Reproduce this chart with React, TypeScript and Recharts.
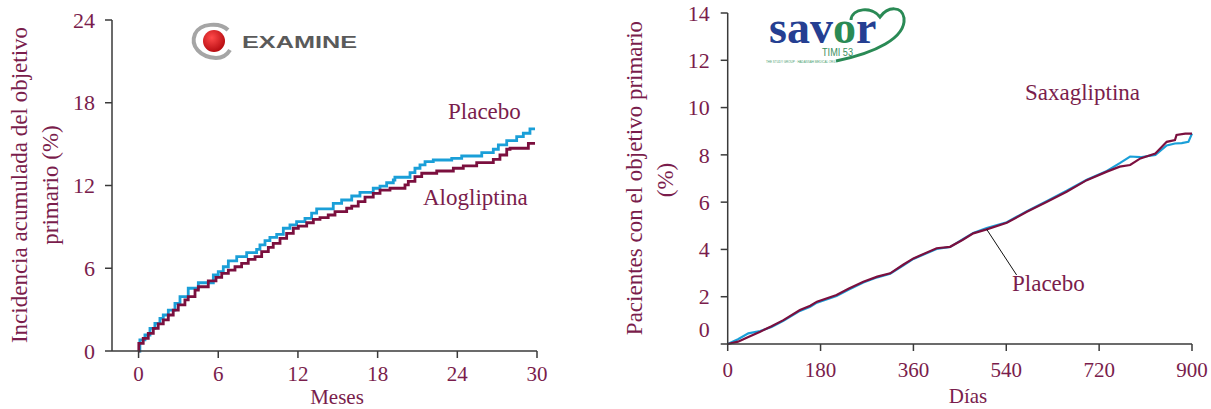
import { LineChart, Line, XAxis, YAxis, ReferenceLine } from "recharts";

// EXAMINE (left): months vs cumulative incidence (%)
const examineTicksX = [0, 6, 12, 18, 24, 30];
const examineTicksY = [0, 6, 12, 18, 24];
const placeboMonths = [0.08, 0.1, 0.48, 0.86, 1.23, 1.61, 1.86, 2.24, 2.74, 3.12, 3.74, 4.5, 5.63, 6.0, 6.38, 6.76, 7.39, 8.14, 8.89, 9.14, 9.52, 9.89, 10.4, 10.9, 11.4, 11.9, 12.53, 13.03, 13.41, 14.66, 15.29, 16.05, 16.67, 17.67, 18.18, 18.68, 19.18, 19.3, 20.44, 20.81, 21.19, 21.57, 22.19, 23.58, 24.33, 25.84, 26.71, 27.09, 27.72, 28.47, 28.97, 29.47, 29.85];
const placeboIncidence = [0, 0.8, 1.16, 1.64, 2.0, 2.37, 2.61, 2.97, 3.46, 3.94, 4.55, 4.95, 5.51, 5.75, 6.11, 6.53, 6.84, 7.13, 7.37, 7.69, 8.0, 8.24, 8.46, 8.9, 9.14, 9.38, 9.62, 9.99, 10.3, 10.7, 10.95, 11.24, 11.5, 11.8, 11.96, 12.2, 12.4, 12.6, 12.93, 13.25, 13.49, 13.73, 13.85, 13.97, 14.14, 14.38, 14.63, 14.94, 15.25, 15.54, 15.79, 16.1, 16.1];
const alogliptinaMonths = [0.0, 0.02, 0.35, 0.73, 1.11, 1.48, 1.86, 2.24, 2.61, 2.99, 3.49, 3.74, 4.25, 4.5, 5.25, 5.83, 6.26, 6.76, 7.26, 7.76, 8.26, 8.77, 9.27, 9.77, 10.14, 10.65, 11.15, 11.65, 12.03, 12.66, 13.16, 13.66, 14.28, 14.79, 15.67, 16.05, 16.54, 17.05, 17.67, 18.18, 18.93, 20.06, 20.31, 20.81, 21.32, 22.45, 23.7, 24.45, 25.46, 26.71, 27.21, 27.72, 27.97, 29.35, 29.85];
const alogliptinaIncidence = [0, 0.56, 0.92, 1.28, 1.64, 1.96, 2.25, 2.61, 2.97, 3.34, 3.7, 3.94, 4.42, 4.66, 5.08, 5.34, 5.63, 5.87, 6.11, 6.36, 6.65, 6.84, 7.2, 7.52, 7.81, 8.17, 8.53, 8.9, 9.06, 9.3, 9.55, 9.67, 9.86, 10.1, 10.35, 10.5, 10.83, 11.15, 11.43, 11.67, 11.8, 12.04, 12.3, 12.64, 12.89, 13.05, 13.25, 13.42, 13.66, 13.9, 14.21, 14.63, 14.7, 15.06, 15.06];

// SAVOR (right): days vs patients with primary endpoint (%)
const savorTicksX = [0, 180, 360, 540, 720, 900];
const savorTicksY = [0, 2, 4, 6, 8, 10, 12, 14];
const saxaDays = [0, 20, 40, 63, 85, 108, 140, 160, 173, 211, 235, 263, 290, 315, 340, 360, 405, 431, 455, 476, 502, 541, 580, 619, 657, 696, 735, 760, 780, 800, 829, 851, 867, 870, 887, 900];
const saxaValues = [0, 0.1, 0.3, 0.52, 0.75, 1.01, 1.44, 1.62, 1.79, 2.07, 2.35, 2.63, 2.85, 2.99, 3.35, 3.62, 4.05, 4.11, 4.4, 4.68, 4.85, 5.13, 5.59, 6.02, 6.44, 6.93, 7.29, 7.5, 7.57, 7.85, 8.06, 8.55, 8.63, 8.84, 8.9, 8.9];
const savorPlaceboDays = [0, 20, 40, 63, 85, 108, 140, 160, 173, 211, 235, 263, 290, 315, 340, 360, 405, 431, 455, 476, 502, 541, 580, 619, 657, 696, 735, 760, 780, 800, 829, 851, 867, 880, 893, 900];
const savorPlaceboValues = [0, 0.2, 0.45, 0.55, 0.72, 0.98, 1.4, 1.58, 1.75, 2.03, 2.3, 2.6, 2.82, 2.97, 3.32, 3.6, 4.02, 4.1, 4.42, 4.7, 4.9, 5.15, 5.62, 6.05, 6.48, 6.95, 7.32, 7.65, 7.93, 7.9, 8.0, 8.4, 8.48, 8.5, 8.55, 8.9];

const examinePlacebo = placeboMonths.map((m, i) => ({ m, v: placeboIncidence[i] }));
const examineAlo = alogliptinaMonths.map((m, i) => ({ m, v: alogliptinaIncidence[i] }));
const savorSaxa = saxaDays.map((d, i) => ({ d, v: saxaValues[i] }));
const savorPlacebo = savorPlaceboDays.map((d, i) => ({ d, v: savorPlaceboValues[i] }));

const MAROON = "#7b0f3e";
const TEXT = "#7a1d4c";
const BLUE = "#1a9fd8";
const AXIS = "#3a3a3a";
const SERIF = "'Liberation Serif', 'DejaVu Serif', serif";
const SANS = "'Liberation Sans', Arial, sans-serif";

function XTick({ x, y, payload }: any) {
  return (
    <text x={x} y={y} dy="0.71em" textAnchor="middle" fill={TEXT} fontSize={21} fontFamily={SERIF}>
      {payload.value}
    </text>
  );
}

function YTick({ x, y, payload, shiftZero }: any) {
  const dy = shiftZero && payload.value === 0 ? -15 : 0;
  return (
    <text x={x} y={y + dy} dy="0.35em" textAnchor="end" fill={TEXT} fontSize={22} fontFamily={SERIF}>
      {payload.value}
    </text>
  );
}

const axisProps = {
  stroke: AXIS,
  strokeWidth: 1.5,
  tickSize: 7,
  tickLine: { stroke: AXIS, strokeWidth: 1.5 },
};

export default function App() {
  return (
    <div style={{ position: "absolute", left: 0, top: 0, width: 1211, height: 409, background: "#fff" }}>
      <div style={{ position: "absolute", left: 0, top: 0 }}>
        <LineChart width={560} height={409} margin={{ top: 20, right: 23, bottom: 28, left: 52 }}>
          <XAxis
            dataKey="m"
            type="number"
            domain={[-2, 30]}
            ticks={examineTicksX}
            height={30}
            tickMargin={8}
            tick={<XTick />}
            allowDuplicatedCategory={false}
            {...axisProps}
          />
          <YAxis
            type="number"
            domain={[0, 24]}
            ticks={examineTicksY}
            width={60}
            tickMargin={10}
            tick={<YTick />}
            {...axisProps}
          />
          <Line data={examinePlacebo} dataKey="v" type="stepAfter" stroke={BLUE} strokeWidth={2.8} dot={false} isAnimationActive={false} />
          <Line data={examineAlo} dataKey="v" type="stepAfter" stroke={MAROON} strokeWidth={2.8} dot={false} isAnimationActive={false} />
        </LineChart>
      </div>
      <div style={{ position: "absolute", left: 600, top: 0 }}>
        <LineChart width={611} height={409} margin={{ top: 13, right: 19, bottom: 35, left: 67.7 }}>
          <XAxis
            dataKey="d"
            type="number"
            domain={[0, 900]}
            ticks={savorTicksX}
            height={30}
            tickMargin={11}
            tick={<XTick />}
            allowDuplicatedCategory={false}
            {...axisProps}
          />
          <YAxis
            type="number"
            domain={[0, 14]}
            ticks={savorTicksY}
            width={60}
            tickMargin={11}
            tick={<YTick shiftZero />}
            {...axisProps}
          />
          <Line data={savorPlacebo} dataKey="v" type="linear" stroke={BLUE} strokeWidth={2.2} dot={false} isAnimationActive={false} />
          <Line data={savorSaxa} dataKey="v" type="linear" stroke={MAROON} strokeWidth={2.2} dot={false} isAnimationActive={false} />
          <ReferenceLine segment={[{ x: 502, y: 4.85 }, { x: 560, y: 2.92 }]} stroke="#111" strokeWidth={1} ifOverflow="visible" />
        </LineChart>
      </div>

      <svg width={1211} height={409} style={{ position: "absolute", left: 0, top: 0, pointerEvents: "none" }}>
        {/* axis titles */}
        <g fill={TEXT} fontFamily={SERIF} fontSize={23} textAnchor="middle">
          <text transform="translate(19,185) rotate(-90)" dy="0.35em">Incidencia acumulada del objetivo</text>
          <text transform="translate(50,185) rotate(-90)" dy="0.35em">primario (%)</text>
          <text x={337} y={397} dy="0.35em" fontSize={21}>Meses</text>
          <text transform="translate(634,178) rotate(-90)" dy="0.35em">Pacientes con el objetivo primario</text>
          <text transform="translate(665,180) rotate(-90)" dy="0.35em">(%)</text>
          <text x={968} y={396} dy="0.35em" fontSize={21}>Días</text>
        </g>
        {/* series labels */}
        <g fill={TEXT} fontFamily={SERIF} fontSize={23}>
          <text x={448} y={111} dy="0.35em">Placebo</text>
          <text x={423} y={197} dy="0.35em">Alogliptina</text>
          <text x={1025} y={92} dy="0.35em">Saxagliptina</text>
          <text x={1012} y={283} dy="0.35em">Placebo</text>
        </g>

        {/* EXAMINE logo */}
        <defs>
          <radialGradient id="exRed" cx="40%" cy="35%" r="65%">
            <stop offset="0%" stopColor="#ff4a4a" />
            <stop offset="100%" stopColor="#b80d12" />
          </radialGradient>
        </defs>
        <path d="M 228 30 C 220 22, 200 23, 195 34 C 190 46, 200 57, 216 58 C 222 58, 227 55, 230 50" fill="none" stroke="#a5a5a5" strokeWidth={4} />
        <circle cx={214} cy={41} r={11} fill="url(#exRed)" />
        <text x={242} y={48} fontFamily={SANS} fontWeight="bold" fontSize={17} fill="#5a5a5a" textLength={115} lengthAdjust="spacingAndGlyphs">
          EXAMINE
        </text>

        {/* SAVOR logo */}
        <path d="M 836 61 C 875 53, 906 38, 904 18 C 902 6, 888 6, 880 17 C 872 6, 852 8, 851 20" fill="none" stroke="#2a8a55" strokeWidth={3} />
        <text x={769} y={43} fontFamily={SERIF} fontWeight="bold" fontSize={46} fill="#253f92">
          sav<tspan fill="#2a8a55">o</tspan>r
        </text>
        <text x={822} y={56} fontFamily={SANS} fontSize={10} fill="#3a8f5e" textLength={31} lengthAdjust="spacingAndGlyphs">
          TIMI 53
        </text>
        <text x={766} y={63} fontFamily={SANS} fontSize={3} fill="#4aa070">
          THE STUDY GROUP · HADASSAH MEDICAL ORG
        </text>
      </svg>
    </div>
  );
}
